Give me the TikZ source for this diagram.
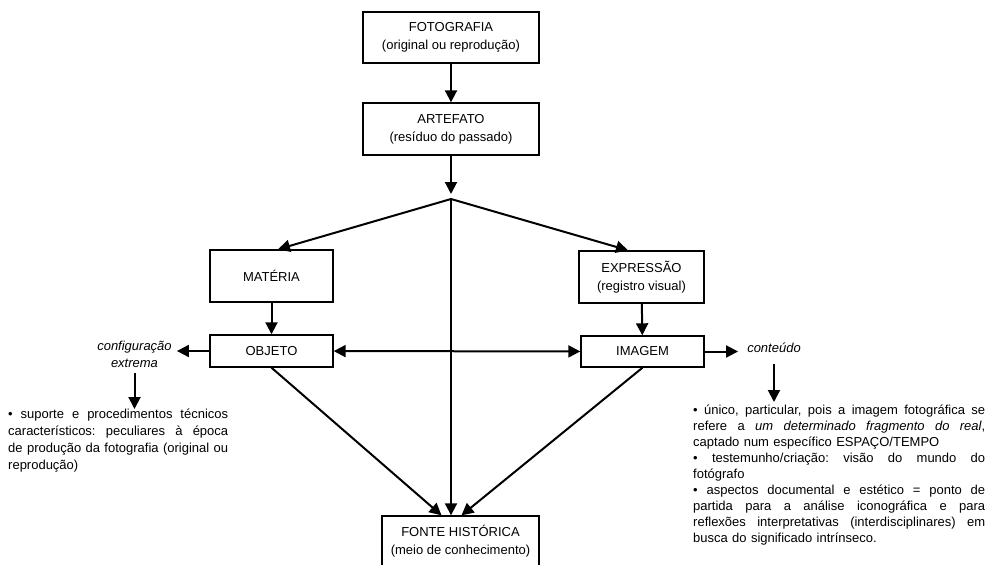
\documentclass[tikz,border=0pt]{standalone}
\usepackage{fontspec}
\setmainfont{Liberation Sans}
\usetikzlibrary{arrows.meta, positioning}
\setlength{\parindent}{0pt}
\newcommand{\esticada}[2]{\makebox[#1][s]{\frenchspacing\spaceskip=0pt\xspaceskip=0pt\relax #2}}
\tikzset{
  caixa/.style={draw, line width=1.4pt, align=center, inner sep=2pt,
    font=\fontsize{13}{18}\selectfont},
  seta/.style={-{Triangle[length=12pt, width=12pt]}, line width=2pt},
  texto/.style={inner sep=0pt, font=\fontsize{13}{16}\selectfont},
}

\begin{document}
\begin{tikzpicture}[x=1pt, y=-1pt]
  \useasboundingbox (0,0) rectangle (986,565);

  \node[caixa, minimum width=176pt, minimum height=51pt] (foto) at (451,37.5) {FOTOGRAFIA\\(original ou reprodução)};
  \node[caixa, minimum width=176pt, minimum height=52pt] (arte) at (451,129) {ARTEFATO\\(resíduo do passado)};
  \node[caixa, minimum width=123pt, minimum height=52pt] (materia) at (271.5,276) {MATÉRIA};
  \node[caixa, minimum width=125pt, minimum height=52pt] (expressao) at (641.5,277) {EXPRESSÃO\\(registro visual)};
  \node[caixa, minimum width=123pt, minimum height=32pt] (objeto) at (271.5,351) {OBJETO};
  \node[caixa, minimum width=123pt, minimum height=31pt] (imagem) at (642.5,351.5) {IMAGEM};
  \node[caixa, minimum width=157pt, minimum height=51pt] (fonte) at (460.5,541.5) {FONTE HISTÓRICA\\(meio de conhecimento)};
  \coordinate (ramo) at (451,199);

  % textos laterais
  \node[texto, font=\fontsize{13}{17}\selectfont\itshape, align=center] (config) at (134.5,354.5) {configuração\\extrema};
  \node[texto, font=\fontsize{13}{16}\selectfont\itshape] (conteudo) at (774,348) {conteúdo};
  \node[texto, text width=220pt, anchor=north west, align=left, font=\fontsize{13}{17}\selectfont] (suporte) at (8,409) {%
    \esticada{220pt}{• suporte e procedimentos técnicos}\\
    \esticada{220pt}{característicos: peculiares à época}\\
    \esticada{220pt}{de produção da fotografia (original ou}\\
    reprodução)};
  \node[texto, text width=292pt, anchor=north west, align=left] (unico) at (693,405) {%
    \esticada{292pt}{• único, particular, pois a imagem fotográfica se}\\
    \esticada{292pt}{refere a \textit{um determinado fragmento do real},}\\
    captado num específico ESPAÇO/TEMPO\\
    \esticada{292pt}{• testemunho/criação: visão do mundo do}\\
    fotógrafo\\
    \esticada{292pt}{• aspectos documental e estético = ponto de}\\
    \esticada{292pt}{partida para a análise iconográfica e para}\\
    \esticada{292pt}{reflexões interpretativas (interdisciplinares) em}\\
    busca do significado intrínseco.};

  % eixo central
  \draw[seta] (foto) -- (arte);
  \draw[seta] (arte) -- ([yshift=5pt]ramo);
  \draw[seta] (ramo) -- ([xshift=6.5pt]materia.north);
  \draw[seta] (ramo) -- ([xshift=-13.5pt]expressao.north);
  \draw[seta] (ramo) -- (ramo |- fonte.north);

  \draw[seta] (materia) -- (objeto);
  \draw[seta] (expressao) -- (imagem);
  \draw[seta, {Triangle[length=12pt, width=12pt]}-{Triangle[length=12pt, width=12pt]}] (objeto) -- (imagem);

  % saidas laterais
  \draw[seta, shorten >=5pt] (objeto.west) -- (objeto.west -| config.east);
  \draw[seta, shorten >=9pt] (imagem.east) -- (imagem.east -| conteudo.west);
  \draw[seta, shorten <=5pt] (config.south) -- (config.south |- suporte.north);
  \draw[seta, shorten <=11pt, shorten >=3pt] (conteudo.south) -- (conteudo.south |- unico.north);

  \draw[seta] (objeto.south) -- ([xshift=-19pt]fonte.north);
  \draw[seta] (imagem.south) -- ([xshift=1pt]fonte.north);
\end{tikzpicture}
\end{document}
